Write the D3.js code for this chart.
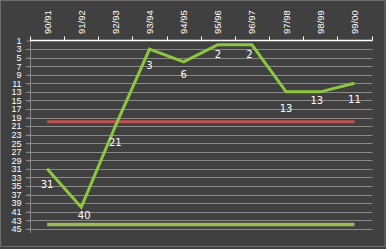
<!DOCTYPE html>
<html><head><meta charset="utf-8">
<script src="https://cdn.jsdelivr.net/npm/d3@7"></script>
<style>html,body{margin:0;padding:0;background:#404040;}svg{display:block;}</style>
</head><body>
<svg id="c" width="386" height="249"></svg>
<script>
const seasons = ["90/91","91/92","92/93","93/94","94/95","95/96","96/97","97/98","98/99","99/00"];
const positions = [31,40,21,3,6,2,2,13,13,11];
const redLevel = 20;
const greenLevel = 44;
const yTicks = d3.range(1, 46, 2);
// label placement offsets (layout only)
const labelDx = [0,3,0,0,0,0,-2.5,0,-3.5,0];
const labelDy = [16,8.5,16.5,16,12.3,9.3,9.3,16.3,9,16];

const svg = d3.select("#c");
svg.append("rect").attr("x",0).attr("y",0).attr("width",386).attr("height",249).attr("fill","#404040");
svg.append("rect").attr("x",0.5).attr("y",0.5).attr("width",384.5).attr("height",246).attr("fill","none").attr("stroke","#6e6e6e");

const L = 30, R = 371.5, T = 40.5, B = 233;
const x = d3.scaleBand().domain(seasons).range([L, R]).padding(0);
const y = d3.scaleLinear().domain([1, 46]).range([T, B]);
const cx = d => x(d) + x.bandwidth()/2;

// gridlines
svg.append("g").selectAll("line").data(yTicks.filter(v => v !== 1)).join("line")
  .attr("x1", 26).attr("x2", R+1).attr("y1", d => Math.round(y(d))+0.5).attr("y2", d => Math.round(y(d))+0.5)
  .attr("stroke", "#8a8a8a").attr("stroke-width", 1);

// y axis
const ya = svg.append("g").attr("transform", `translate(${L+0.5},0)`)
  .call(d3.axisLeft(y).tickValues(yTicks).tickSize(4).tickPadding(5).tickSizeOuter(0));
ya.select(".domain").attr("stroke", "#8a8a8a");
ya.selectAll(".tick line").attr("stroke", "#8a8a8a");
ya.selectAll("text").attr("fill", "#ffffff").style("font-family","Liberation Sans, Arial, sans-serif").style("font-size","9px");
ya.select(".domain").attr("d", `M0,${T}V${B}`);

// top x axis
const xa = svg.append("g").attr("transform", `translate(0,${T})`)
  .call(d3.axisTop(x).tickSize(0).tickPadding(0));
xa.select(".domain").remove();
xa.selectAll(".tick text").remove();
svg.append("line").attr("x1", L).attr("x2", R+1).attr("y1", T).attr("y2", T).attr("stroke", "#ffffff").attr("stroke-width", 1.5);
const edges = seasons.map(s => x(s)).concat([R]);
svg.append("g").selectAll("line").data(edges).join("line")
  .attr("x1", d => Math.round(d)+0.5).attr("x2", d => Math.round(d)+0.5).attr("y1", T-4).attr("y2", T)
  .attr("stroke", "#ffffff");
svg.append("g").selectAll("text").data(seasons).join("text")
  .attr("transform", d => `translate(${cx(d)+3.5},34) rotate(-90)`)
  .attr("text-anchor", "start").attr("fill", "#ffffff")
  .style("font-family","Liberation Sans, Arial, sans-serif").style("font-size","9.5px")
  .text(d => d);

// reference lines
svg.append("line").attr("x1", cx(seasons[0])).attr("x2", cx(seasons[seasons.length-1]))
  .attr("y1", y(redLevel)).attr("y2", y(redLevel)).attr("stroke", "#c0504d").attr("stroke-width", 3);
svg.append("line").attr("x1", cx(seasons[0])).attr("x2", cx(seasons[seasons.length-1]))
  .attr("y1", y(greenLevel)).attr("y2", y(greenLevel)).attr("stroke", "#9bbb59").attr("stroke-width", 3.5);

// main line
const line = d3.line().x((d,i) => cx(seasons[i])).y(d => y(d));
svg.append("path").datum(positions).attr("d", line).attr("fill","none")
  .attr("stroke", "#8dc63f").attr("stroke-width", 3).attr("stroke-linejoin","miter");

// data labels
svg.append("g").selectAll("text").data(positions).join("text")
  .attr("x", (d,i) => cx(seasons[i]) + labelDx[i])
  .attr("y", (d,i) => y(d) + labelDy[i])
  .attr("dy", "0.35em").attr("text-anchor","middle").attr("fill","#ffffff")
  .style("font-family","DejaVu Sans, sans-serif").style("font-size","10px")
  .text(d => d);
</script>
</body></html>
